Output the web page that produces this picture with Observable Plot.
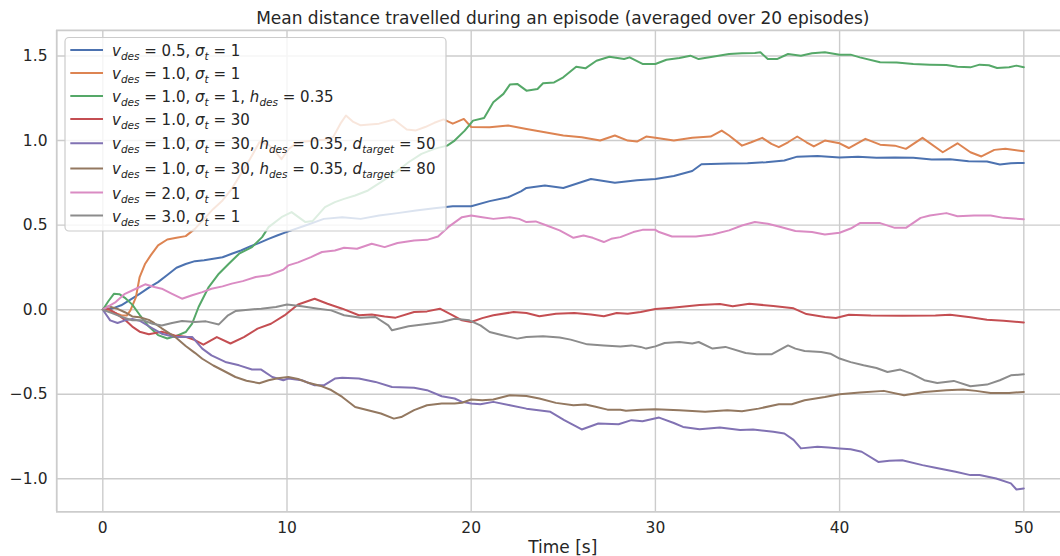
<!DOCTYPE html>
<html>
<head>
<meta charset="utf-8">
<script src="https://cdn.jsdelivr.net/npm/d3@7"></script>
<script src="https://cdn.jsdelivr.net/npm/@observablehq/plot@0.6"></script>
<style>
  html, body { margin: 0; padding: 0; background: #fff; }
  #chart { width: 1060px; height: 556px; overflow: hidden; }
  #chart svg { display: block; }
</style>
</head>
<body>
<div id="chart"></div>
<script>
// ---- text and ticks ----
const title = "Mean distance travelled during an episode (averaged over 20 episodes)";
const xLabel = "Time [s]";
const xTicks = [0, 10, 20, 30, 40, 50];
const yTicks = [-1.0, -0.5, 0.0, 0.5, 1.0, 1.5];

// seaborn "deep" palette, one colour per run
const palette = ["#4c72b0", "#dd8452", "#55a868", "#c44e52", "#8172b3", "#937860", "#da8bc3", "#8c8c8c"];

// legend labels: each term is [symbol, subscript, value]
const legendTerms = [
  [["v", "des", "0.5"], ["σ", "t", "1"]],
  [["v", "des", "1.0"], ["σ", "t", "1"]],
  [["v", "des", "1.0"], ["σ", "t", "1"], ["h", "des", "0.35"]],
  [["v", "des", "1.0"], ["σ", "t", "30"]],
  [["v", "des", "1.0"], ["σ", "t", "30"], ["h", "des", "0.35"], ["d", "target", "50"]],
  [["v", "des", "1.0"], ["σ", "t", "30"], ["h", "des", "0.35"], ["d", "target", "80"]],
  [["v", "des", "2.0"], ["σ", "t", "1"]],
  [["v", "des", "3.0"], ["σ", "t", "1"]]
];

// ---- mean distance per run: [time (s), distance] ----
const runV05 = [[0,0],[0.5,0.006],[1,0.026],[1.5,0.06],[2,0.094],[2.5,0.13],[3,0.163],[3.5,0.205],[4,0.248],[4.5,0.27],[5,0.287],[5.5,0.293],[6,0.301],[6.5,0.31],[7,0.331],[7.5,0.35],[8,0.374],[8.5,0.395],[9,0.419],[9.5,0.44],[10,0.46],[11,0.498],[12,0.537],[13,0.547],[14,0.537],[15,0.557],[16,0.571],[17,0.587],[18,0.6],[19,0.612],[20,0.612],[21,0.642],[22,0.665],[22.7,0.7],[23,0.72],[24,0.735],[25,0.72],[26,0.755],[26.5,0.773],[27.8,0.75],[29,0.765],[30,0.773],[31,0.79],[32,0.82],[32.5,0.86],[33,0.862],[34,0.864],[35,0.866],[36,0.872],[37,0.882],[37.7,0.905],[38.8,0.909],[40,0.9],[41,0.904],[42,0.898],[43,0.9],[44,0.898],[45,0.888],[46,0.89],[47,0.878],[48,0.876],[48.7,0.858],[49.3,0.866],[50,0.868]];

const runV10 = [[0,0],[0.5,-0.014],[1,-0.033],[1.3,-0.035],[1.5,-0.004],[1.8,0.075],[2,0.193],[2.3,0.272],[2.6,0.321],[3,0.38],[3.5,0.415],[4,0.425],[4.5,0.435],[5,0.478],[5.5,0.537],[6,0.596],[6.5,0.646],[7,0.715],[7.5,0.803],[8,0.892],[8.5,0.99],[9,0.975],[9.4,0.93],[9.7,0.89],[10.1,0.95],[10.5,0.985],[11,0.995],[11.5,1.0],[12,1.005],[12.5,1.02],[12.9,1.1],[13.2,1.148],[13.6,1.11],[14,1.09],[14.5,1.095],[15,1.1],[15.8,1.125],[16.5,1.065],[17,1.06],[17.5,1.08],[18,1.105],[18.5,1.125],[19,1.1],[19.6,1.128],[20,1.08],[21,1.079],[22,1.089],[23,1.069],[24,1.049],[25,1.03],[26,1.02],[27,1.0],[27.8,1.03],[28.5,1.0],[29,0.994],[29.5,1.024],[30,1.016],[31,1.0],[32,1.016],[33,1.024],[33.6,1.059],[34,1.03],[34.7,0.97],[35.2,0.99],[35.8,1.016],[36.3,0.98],[36.7,0.961],[37.2,0.99],[37.7,1.024],[38.2,0.99],[38.6,0.965],[39.2,1.0],[40,0.984],[40.5,0.956],[41.4,1.01],[42.2,0.976],[43,0.97],[43.6,0.951],[44.5,1.016],[45.6,0.931],[46.4,0.984],[47.1,0.931],[47.7,0.906],[48.4,0.945],[49,0.951],[50,0.937]];

const runV10H = [[0,0],[0.3,0.05],[0.6,0.094],[0.9,0.092],[1.2,0.07],[1.6,0.03],[2,-0.03],[2.5,-0.1],[3,-0.15],[3.5,-0.17],[4,-0.155],[4.5,-0.132],[4.85,-0.083],[5.2,0.016],[5.75,0.134],[6.3,0.213],[6.84,0.272],[7.4,0.331],[8.1,0.37],[8.65,0.429],[9,0.488],[9.7,0.547],[10.25,0.577],[11,0.518],[11.4,0.525],[12.06,0.606],[12.6,0.636],[13.1,0.655],[13.7,0.675],[14.4,0.705],[15.1,0.754],[15.9,0.813],[16.6,0.872],[17.3,0.921],[18,0.951],[18.7,0.97],[19.1,1.0],[19.65,1.059],[20.1,1.118],[20.7,1.134],[21.2,1.226],[21.75,1.276],[22.1,1.331],[22.5,1.335],[23,1.295],[23.6,1.305],[23.9,1.339],[24.5,1.344],[25,1.374],[25.7,1.437],[26.2,1.427],[26.8,1.472],[27.5,1.496],[28.3,1.482],[28.6,1.492],[29.3,1.453],[30,1.453],[30.6,1.478],[31.3,1.488],[31.9,1.502],[32.35,1.482],[33.1,1.496],[34,1.512],[34.7,1.516],[35.4,1.518],[35.7,1.522],[36.1,1.482],[36.6,1.482],[37.2,1.512],[37.9,1.502],[38.5,1.516],[39.2,1.522],[40,1.508],[40.6,1.508],[41.1,1.492],[42.2,1.463],[43.1,1.461],[44,1.453],[44.9,1.449],[45.8,1.447],[46.4,1.437],[47.1,1.433],[47.6,1.449],[48.1,1.445],[48.55,1.429],[49.2,1.433],[49.6,1.443],[50,1.433]];

const runS30 = [[0,0],[0.3,0.005],[0.7,-0.02],[1.2,-0.06],[1.6,-0.1],[2,-0.13],[2.5,-0.145],[3.2,-0.13],[3.9,-0.152],[4.5,-0.16],[5,-0.18],[5.46,-0.207],[6.19,-0.162],[6.93,-0.2],[7.66,-0.162],[8.4,-0.112],[9.13,-0.083],[9.86,-0.034],[10.6,0.031],[11.5,0.065],[12.2,0.035],[13,0.006],[13.9,-0.033],[14.6,-0.028],[15.3,-0.04],[15.9,-0.047],[16.9,-0.014],[17.6,-0.01],[18.3,0.006],[19,-0.033],[19.5,-0.063],[20,-0.073],[20.6,-0.05],[21.2,-0.033],[22.3,-0.014],[23,-0.02],[23.7,-0.039],[24.6,-0.024],[25.6,-0.02],[26.5,-0.028],[27.2,-0.039],[27.9,-0.02],[28.5,-0.024],[29.2,-0.014],[30,0.004],[30.9,0.012],[32.4,0.028],[33.5,0.034],[34.2,0.02],[35.1,0.035],[36.4,0.022],[37.5,0.008],[38.2,-0.026],[39.2,-0.043],[39.8,-0.049],[40.5,-0.03],[41.7,-0.035],[43.4,-0.036],[45.2,-0.035],[46,-0.03],[47.1,-0.045],[48,-0.059],[48.9,-0.065],[50,-0.075]];

const runT50 = [[0,0],[0.4,-0.063],[0.8,-0.079],[1.2,-0.063],[1.6,-0.055],[2,-0.065],[2.5,-0.098],[3.2,-0.142],[3.9,-0.161],[4.85,-0.161],[5.4,-0.23],[5.9,-0.27],[6.65,-0.309],[7.4,-0.329],[8.1,-0.354],[8.6,-0.354],[9.2,-0.398],[9.8,-0.417],[10.07,-0.407],[10.8,-0.417],[11.5,-0.447],[12,-0.447],[12.6,-0.407],[13,-0.403],[13.9,-0.407],[14.8,-0.427],[15.7,-0.457],[16.9,-0.461],[17.6,-0.476],[18.4,-0.512],[19.1,-0.525],[19.5,-0.545],[20,-0.555],[20.5,-0.559],[21.2,-0.545],[22.1,-0.565],[23,-0.585],[24.3,-0.604],[25.05,-0.653],[26,-0.708],[26.9,-0.673],[28,-0.677],[28.7,-0.653],[29.3,-0.66],[30.2,-0.638],[31,-0.67],[31.5,-0.693],[32.4,-0.707],[33.5,-0.697],[34.6,-0.712],[35.3,-0.708],[36.4,-0.722],[37,-0.732],[37.5,-0.77],[37.9,-0.82],[38.8,-0.811],[39.4,-0.815],[40,-0.82],[40.6,-0.825],[41.2,-0.84],[42.1,-0.9],[42.7,-0.893],[43.4,-0.89],[44.5,-0.919],[45.2,-0.935],[46.3,-0.958],[47.1,-0.978],[47.6,-0.978],[48.5,-0.998],[49.3,-1.027],[49.6,-1.063],[50,-1.057]];

const runT80 = [[0,0],[0.3,0.02],[0.8,0.005],[1.2,-0.015],[1.6,-0.04],[2,-0.045],[2.5,-0.06],[2.8,-0.08],[3.2,-0.11],[3.95,-0.163],[4.5,-0.215],[5,-0.255],[5.4,-0.29],[6,-0.33],[6.5,-0.358],[7.2,-0.398],[7.8,-0.42],[8.5,-0.435],[9,-0.417],[9.5,-0.405],[10.07,-0.398],[10.6,-0.41],[11.1,-0.43],[11.9,-0.453],[12.4,-0.475],[13,-0.516],[13.7,-0.575],[14.4,-0.595],[15.1,-0.614],[15.8,-0.644],[16.2,-0.635],[16.9,-0.594],[17.6,-0.565],[18.4,-0.555],[19.1,-0.555],[19.5,-0.55],[20,-0.531],[20.6,-0.535],[21.2,-0.531],[22.1,-0.506],[23,-0.51],[23.7,-0.525],[24.6,-0.551],[25.55,-0.565],[26.2,-0.56],[26.7,-0.572],[27.4,-0.591],[28.1,-0.591],[28.4,-0.598],[29.2,-0.591],[30,-0.588],[31.3,-0.594],[32.7,-0.604],[33.9,-0.595],[34.7,-0.6],[35.6,-0.585],[36.7,-0.559],[37.4,-0.559],[38.1,-0.535],[39.2,-0.516],[40,-0.5],[41.1,-0.49],[42.4,-0.48],[43.5,-0.506],[44.6,-0.486],[45.8,-0.476],[46.7,-0.472],[47.4,-0.48],[48.2,-0.492],[49.2,-0.492],[50,-0.486]];

const runV20 = [[0,0],[0.3,0.02],[0.7,0.045],[1.2,0.094],[1.8,0.124],[2.3,0.15],[2.8,0.134],[3.2,0.124],[3.76,0.094],[4.3,0.065],[4.85,0.085],[5.4,0.104],[5.9,0.124],[6.5,0.138],[7,0.154],[7.6,0.169],[8.3,0.193],[9,0.203],[9.8,0.236],[10.07,0.262],[10.6,0.28],[11.3,0.311],[11.9,0.341],[12.6,0.35],[13.1,0.366],[13.8,0.36],[14.6,0.39],[15.3,0.37],[16,0.394],[16.9,0.409],[17.6,0.413],[18.2,0.433],[18.75,0.488],[19.5,0.547],[20,0.557],[20.6,0.547],[21.2,0.537],[22.1,0.547],[22.6,0.537],[23,0.518],[23.5,0.522],[24.1,0.498],[24.8,0.469],[25.55,0.425],[26.1,0.439],[26.6,0.425],[27.2,0.4],[27.6,0.419],[28.1,0.429],[28.8,0.459],[29.3,0.472],[30,0.472],[30.2,0.459],[30.9,0.433],[32.2,0.433],[33.1,0.445],[34,0.469],[34.7,0.498],[35.4,0.518],[36.1,0.508],[36.7,0.492],[37.6,0.465],[38.5,0.459],[39.2,0.445],[40,0.455],[40.6,0.48],[41.1,0.512],[42.2,0.512],[43,0.484],[43.6,0.484],[44.4,0.543],[44.9,0.557],[45.8,0.571],[46.4,0.553],[47.3,0.557],[48.2,0.557],[48.9,0.543],[50,0.535]];

const runV30 = [[0,0],[0.5,-0.02],[1.05,-0.043],[1.6,-0.063],[2.2,-0.063],[2.7,-0.083],[3.2,-0.093],[3.76,-0.079],[4.3,-0.067],[5,-0.073],[5.6,-0.069],[6.3,-0.087],[6.8,-0.033],[7.2,-0.008],[7.9,0],[8.6,0.006],[9.4,0.016],[10,0.031],[10.8,0.02],[11.7,0.006],[12.4,-0.004],[13.1,-0.033],[14,-0.047],[14.8,-0.043],[15.5,-0.093],[15.7,-0.122],[16.6,-0.098],[17.7,-0.083],[18.4,-0.073],[19.1,-0.053],[19.9,-0.063],[20.5,-0.093],[21,-0.132],[21.7,-0.151],[22.5,-0.171],[23,-0.161],[23.9,-0.157],[24.8,-0.165],[25.4,-0.177],[26.3,-0.205],[27.2,-0.211],[28.1,-0.217],[28.7,-0.211],[29.2,-0.22],[29.5,-0.23],[30,-0.217],[30.5,-0.197],[31.3,-0.191],[32,-0.2],[32.35,-0.191],[33.1,-0.23],[33.8,-0.22],[34.9,-0.256],[35.5,-0.264],[36.3,-0.264],[37.2,-0.211],[37.6,-0.23],[38.1,-0.244],[39,-0.25],[39.5,-0.26],[40,-0.289],[40.6,-0.31],[41.3,-0.329],[42,-0.345],[42.6,-0.368],[43.3,-0.354],[43.9,-0.378],[44.6,-0.417],[45.3,-0.433],[46.2,-0.421],[47.1,-0.453],[48,-0.443],[48.7,-0.417],[49.3,-0.388],[50,-0.382]];

const runs = [runV05, runV10, runV10H, runS30, runT50, runT80, runV20, runV30];
const rows = runs.flatMap((pts, k) => pts.map(([t, v]) => ({t, v, k})));

// ---- chart ----
const font = "DejaVu Sans";
const ink = "#262626";
const gridColor = "#cccccc";
const xDomain = [-2.5, 52.5];
const yDomain = [-1.195, 1.652];

const chart = Plot.plot({
  width: 1060,
  height: 556,
  marginLeft: 56,
  marginRight: 0,
  marginTop: 30,
  marginBottom: 45,
  x: {domain: xDomain, range: [56.25, 1069.35]},
  y: {domain: yDomain, range: [511.3, 29.8]},
  color: {type: "ordinal", domain: d3.range(runs.length), range: palette},
  style: {fontFamily: font, color: ink, background: "#fff", overflow: "hidden"},
  marks: [
    Plot.gridX(xTicks, {stroke: gridColor, strokeOpacity: 1, strokeWidth: 1.4}),
    Plot.gridY(yTicks, {stroke: gridColor, strokeOpacity: 1, strokeWidth: 1.4}),
    Plot.ruleX([xDomain[0]], {stroke: gridColor, strokeWidth: 1.8}),
    Plot.ruleY(yDomain, {stroke: gridColor, strokeWidth: 1.8}),
    Plot.axisX(xTicks, {tickSize: 0, tickPadding: 10, fontSize: 15.5, label: null, tickFormat: d => String(d)}),
    Plot.axisY(yTicks, {tickSize: 0, tickPadding: 9, fontSize: 15.5, label: null, tickFormat: d3.format(".1f")}),
    Plot.line(rows, {x: "t", y: "v", z: "k", stroke: "k", strokeWidth: 2, strokeLinejoin: "round"})
  ]
});

const svg = d3.select(chart);
const sx = chart.scale("x");
const xMid = (sx.apply(xDomain[0]) + sx.apply(xDomain[1])) / 2;

// title and x label
svg.append("text")
  .attr("x", xMid).attr("y", 24)
  .attr("text-anchor", "middle")
  .attr("font-family", font).attr("font-size", 17).attr("fill", ink)
  .text(title);
svg.append("text")
  .attr("x", xMid).attr("y", 552.5)
  .attr("text-anchor", "middle")
  .attr("font-family", font).attr("font-size", 17).attr("fill", ink)
  .text(xLabel);

// legend (semi-transparent frame in the upper left corner)
const lg = svg.append("g")
  .attr("font-family", font).attr("font-size", 15).attr("fill", ink)
  .attr("text-anchor", "start");
lg.append("rect")
  .attr("x", 65).attr("y", 37.5).attr("width", 381).attr("height", 193.5)
  .attr("rx", 4).attr("ry", 4)
  .attr("fill", "#fff").attr("fill-opacity", 0.8)
  .attr("stroke", gridColor).attr("stroke-width", 1.2);

const subShift = 4;
let rowTop = 38.5;
legendTerms.forEach((terms, i) => {
  const deep = terms.some(([, sub]) => /[gjpqy]/.test(sub));
  const h = deep ? 25.3 : 23;
  const cy = rowTop + h / 2;
  rowTop += h;
  lg.append("line")
    .attr("x1", 70.3).attr("x2", 103).attr("y1", cy).attr("y2", cy)
    .attr("stroke", palette[i]).attr("stroke-width", 2);
  const txt = lg.append("text")
    .attr("x", 112).attr("y", cy + 6)
    .attr("text-anchor", "start")
    .style("white-space", "pre");
  terms.forEach(([sym, sub, val], j) => {
    if (j > 0) txt.append("tspan").text(", ");
    txt.append("tspan").attr("font-style", "italic").text(sym);
    txt.append("tspan").attr("font-style", "italic").attr("font-size", 10.5)
      .attr("dy", subShift).text(sub);
    txt.append("tspan").attr("dy", -subShift).text(" = " + val);
  });
});

document.getElementById("chart").append(chart);
</script>
</body>
</html>
